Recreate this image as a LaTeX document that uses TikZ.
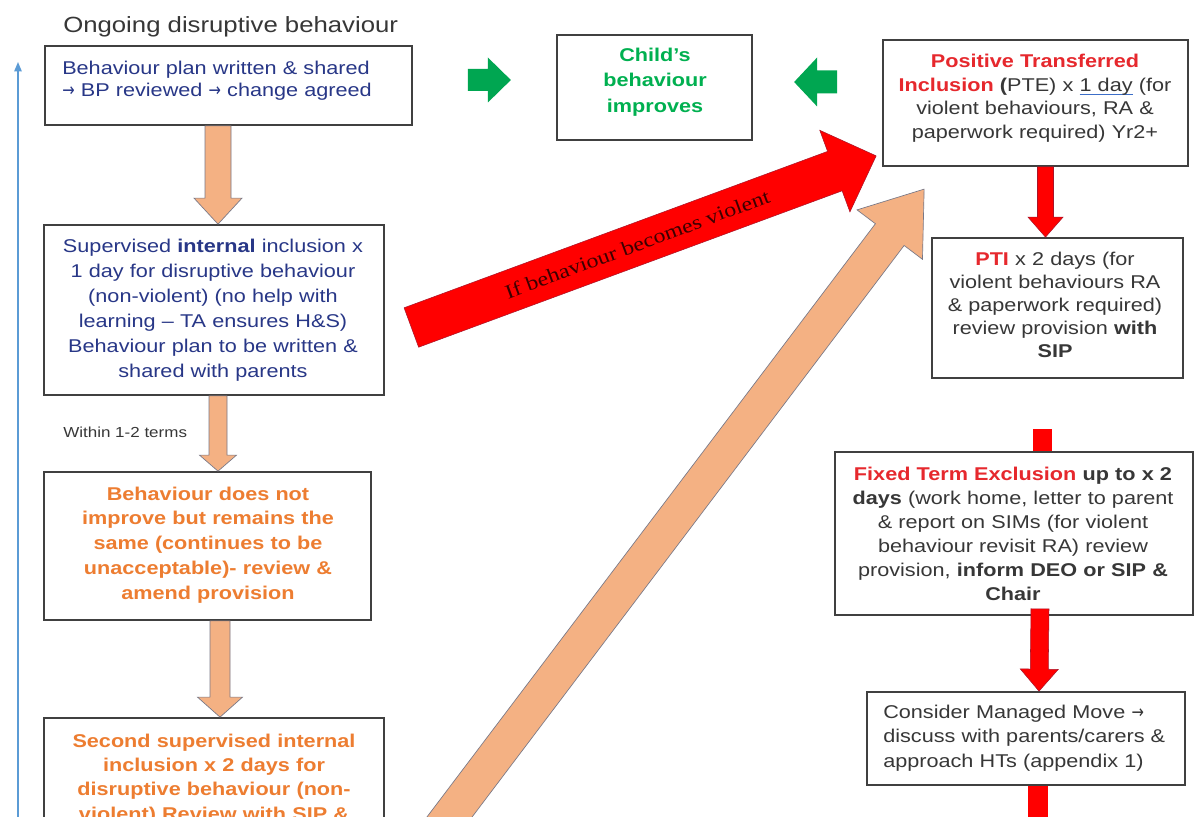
\documentclass[tikz,border=0pt]{standalone}
\usepackage{fontspec}
\setmainfont{Liberation Sans}[FakeStretch=1.17]
\newfontfamily\arrowserif{Liberation Serif}[FakeStretch=1.2]
\newfontfamily\arrowglyph{DejaVu Sans}[FakeStretch=0.8]
\usetikzlibrary{calc,arrows.meta}
\definecolor{cNavy}{RGB}{40,55,135}
\definecolor{cOrangeTxt}{RGB}{237,125,49}
\definecolor{cGreenTxt}{RGB}{0,176,80}
\definecolor{cGreenArr}{RGB}{0,166,81}
\definecolor{cRedTxt}{RGB}{230,40,45}
\definecolor{cRedArr}{RGB}{255,0,0}
\definecolor{cRedEdge}{RGB}{170,20,40}
\definecolor{cOrFill}{RGB}{244,177,131}
\definecolor{cOrEdge}{RGB}{120,120,135}
\definecolor{cGrey}{RGB}{55,55,55}
\definecolor{cBox}{RGB}{64,64,64}
\definecolor{cBlueLine}{RGB}{91,155,213}
\definecolor{cUl}{RGB}{60,110,200}
\definecolor{cMaroon}{RGB}{60,0,0}
\definecolor{cTitle}{RGB}{55,55,55}
\newcommand\bodyfs[1]{\fontsize{13.875pt}{#1}\selectfont}
\newcommand\rarr{{\arrowglyph →}}
\newcommand\blueul[1]{\leavevmode\setbox0\hbox{#1}\rlap{\color{cUl}\rule[-2.6pt]{\wd0}{1pt}}\box0\relax}
% block arrow: style, start, end, shaft width px, head width px, head length px
\newcommand\blockarr[6]{%
  \pgfmathsetmacro\baSW{#4*0.375}%
  \pgfmathsetmacro\baHW{#5*0.375}%
  \pgfmathsetmacro\baHL{#6*0.75}%
  \coordinate (ba-s) at (#2);
  \coordinate (ba-e) at (#3);
  \coordinate (ba-b) at ($(ba-e)!\baHL pt!(ba-s)$);
  \draw[#1] ($(ba-s)!\baSW pt!90:(ba-e)$) -- ($(ba-b)!\baSW pt!-90:(ba-s)$)
    -- ($(ba-b)!\baHW pt!-90:(ba-s)$) -- (ba-e) -- ($(ba-b)!\baHW pt!90:(ba-s)$)
    -- ($(ba-b)!\baSW pt!90:(ba-s)$) -- ($(ba-s)!\baSW pt!-90:(ba-e)$) -- cycle;
}
\begin{document}
\begin{tikzpicture}[x=0.75pt,y=-0.75pt,
  box/.style={draw=cBox, line width=1.3pt, fill=white, inner sep=0pt},
  orangearr/.style={fill=cOrFill, draw=cOrEdge, line width=0.5pt, line join=miter},
  redarr/.style={fill=cRedArr, draw=cRedEdge, line width=0.4pt, line join=miter},
  greenarr/.style={fill=cGreenArr, draw=none},
  redbar/.style={fill=cRedArr, draw=none},
  bluearr/.style={draw=cBlueLine, line width=1.1pt, -{Triangle[width=5.5pt,length=7pt]}}
]
\path[use as bounding box] (0,0) rectangle (1197,817);
\clip (0,0) rectangle (1197,817);
\fill[white] (0,0) rectangle (1197,817);

% boxes
\node[box, minimum width=367*0.75pt, minimum height=79*0.75pt] (A) at (228.5,85.5) {};
\node[box, minimum width=195*0.75pt, minimum height=105*0.75pt] (Child) at (654.5,87.5) {};
\node[box, minimum width=305*0.75pt, minimum height=126*0.75pt] (PTE) at (1035.5,103) {};
\node[box, minimum width=251*0.75pt, minimum height=140*0.75pt] (PTI) at (1057.5,308) {};
\node[box, minimum width=358*0.75pt, minimum height=163*0.75pt] (FTE) at (1014,533.5) {};
\node[box, minimum width=318*0.75pt, minimum height=93*0.75pt] (MM) at (1026,738.5) {};
\node[box, minimum width=340*0.75pt, minimum height=170*0.75pt] (B) at (214,310) {};
\node[box, minimum width=327*0.75pt, minimum height=148*0.75pt] (C) at (207.5,546) {};
\node[box, minimum width=340*0.75pt, minimum height=182*0.75pt] (D) at (214,809) {};

% left blue arrow
\coordinate (blueBot) at (18,830);
\coordinate (blueTop) at (18,62);
\draw[bluearr] (blueBot) -- (blueTop);

% orange down arrows
\blockarr{orangearr}{$(A.south)+(-10.5,0)$}{$(B.north)+(4,0)$}{26}{48}{26}
\blockarr{orangearr}{$(B.south)+(4,0)$}{$(C.north)+(10.5,0)$}{18}{37}{16}
\blockarr{orangearr}{$(C.south)+(12.5,0)$}{$(D.north)+(6,0)$}{20}{45}{20}

% green arrows
\blockarr{greenarr}{$(A.east)+(55,-5.5)$}{$(A.east)+(98,-5.5)$}{22}{45}{23}
\blockarr{greenarr}{$(PTE.west)+(-45,-21)$}{$(PTE.west)+(-88,-21)$}{23}{49}{23}

% red right column
\blockarr{redarr}{$(PTE.south)+(10,0)$}{$(PTI.north)+(-12,0)$}{16}{35}{20}
\fill[redbar] ($(FTE.north)+(19,0)$) rectangle ($(FTE.north)+(38,-22)$);
\blockarr{redarr}{$(FTE.south)+(26,-7)$}{$(MM.north)+(13,0)$}{18}{38}{22}
\fill[redbar] ($(MM.south)+(2,0)$) rectangle ($(MM.south)+(22,45)$);

% diagonal arrows
\coordinate (orS) at ($(D.north east)+(29,147)$);
\coordinate (orE) at ($(PTI.north west)+(-7,-48)$);
\blockarr{orangearr}{orS}{orE}{36}{82}{57}
\coordinate (redS) at ($(B.east)+(26.5,17.5)$);
\coordinate (redE) at ($(PTE.south west)+(-6,-11)$);
\blockarr{redarr}{redS}{redE}{42}{87}{44}
\path (redS) -- (redE) node[pos=0.486, sloped, inner sep=0pt, text=cMaroon,
  font=\arrowserif\fontsize{15pt}{18pt}\selectfont] (redlbl) {If behaviour becomes violent};

% texts
\node[anchor=base west, inner sep=0pt, text=cTitle, font=\fontsize{16.5pt}{20pt}\selectfont] (title) at (63,33) {Ongoing disruptive behaviour};

\node[anchor=base west, inner sep=0pt, text width=350*0.75pt, align=left, text=cNavy, font=\bodyfs{16.5pt}] (tA) at (62,75)
 {Behaviour plan written \& shared\\\rarr{} BP reviewed \rarr{} change agreed};

\node[anchor=base, inner sep=0pt, text width=190*0.75pt, align=center, text=cGreenTxt, font=\bodyfs{19.1pt}\bfseries] (tChild) at (655,61.5)
 {Child's\\behaviour\\improves};

\node[anchor=base, inner sep=0pt, text width=300*0.75pt, align=center, text=cGrey, font=\bodyfs{17.6pt}] (tPTE) at (1035,68)
 {{\bfseries\color{cRedTxt}Positive Transferred}\\
  {\bfseries\color{cRedTxt}Inclusion} {\bfseries(}PTE) x \blueul{1 day} (for\\
  violent behaviours, RA \&\\
  paperwork required) Yr2+};

\node[anchor=base, inner sep=0pt, text width=245*0.75pt, align=center, text=cGrey, font=\bodyfs{17.25pt}] (tPTI) at (1055,265)
 {{\bfseries\color{cRedTxt}PTI} x 2 days (for\\
  violent behaviours RA\\
  \& paperwork required)\\
  review provision \textbf{with}\\
  \textbf{SIP}};

\node[anchor=base, inner sep=0pt, text width=352*0.75pt, align=center, text=cGrey, font=\bodyfs{18pt}] (tFTE) at (1013,480)
 {{\bfseries\color{cRedTxt}Fixed Term Exclusion} \textbf{up to x 2}\\
  \textbf{days} (work home, letter to parent\\
  \& report on SIMs (for violent\\
  behaviour revisit RA) review\\
  provision, \textbf{inform DEO or SIP \&}\\
  \textbf{Chair}};

\node[anchor=base west, inner sep=0pt, text width=300*0.75pt, align=left, text=cGrey, font=\bodyfs{18.4pt}] (tMM) at (883,718)
 {Consider Managed Move \rarr\\
  discuss with parents/carers \&\\
  approach HTs (appendix 1)};

\node[anchor=base, inner sep=0pt, text width=335*0.75pt, align=center, text=cNavy, font=\bodyfs{18.75pt}] (tB) at (213,252)
 {Supervised \textbf{internal} inclusion x\\
  1 day for disruptive behaviour\\
  (non-violent) (no help with\\
  learning – TA ensures H\&S)\\
  Behaviour plan to be written \&\\
  shared with parents};

\node[anchor=base west, inner sep=0pt, text=cGrey, font=\fontsize{10.9pt}{13pt}\selectfont] (within) at (63,437) {Within 1-2 terms};

\node[anchor=base, inner sep=0pt, text width=320*0.75pt, align=center, text=cOrangeTxt, font=\bodyfs{18.6pt}\bfseries] (tC) at (208,500)
 {Behaviour does not\\
  improve but remains the\\
  same (continues to be\\
  unacceptable)- review \&\\
  amend provision};

\node[anchor=base, inner sep=0pt, text width=335*0.75pt, align=center, text=cOrangeTxt, font=\bodyfs{18.3pt}\bfseries] (tD) at (214,747)
 {Second supervised internal\\
  inclusion x 2 days for\\
  disruptive behaviour (non-\\
  violent) Review with SIP \&};
\end{tikzpicture}
\end{document}
